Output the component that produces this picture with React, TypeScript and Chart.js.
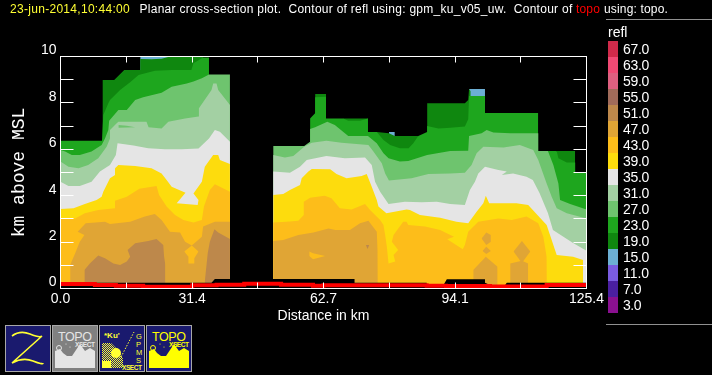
import React, { useEffect, useRef } from "react";
import { Chart, registerables } from "chart.js";

Chart.register(...registerables);

type Pair = number[];

// ---- legend ----
const legendLevels = ["67.0","63.0","59.0","55.0","51.0","47.0","43.0","39.0","35.0","31.0","27.0","23.0","19.0","15.0","11.0","7.0","3.0"];
const legendColors = ["#d02a4a","#f04a74","#de6080","#a06b5a","#bd884b","#e0a535","#fdbd1a","#fddc0d","#e5e5e5","#a3d0a3","#6ec46e","#1ea61e","#0f870f","#6cafd4","#7a5ce0","#4a1fa0","#8a1090"];
const C15 = "#6cafd4", C19 = "#0f870f", C23 = "#1ea61e", C27 = "#6ec46e", C31 = "#a3d0a3", C35 = "#e5e5e5", C39 = "#fddc0d", C43 = "#fdbd1a", C47 = "#e0a535", C51 = "#bd884b";

// ---- axes ----
const xTicks = [0, 15.7, 31.4, 47.0, 62.7, 78.4, 94.1, 109.7, 125.4];
const xTickLabels = [0, 31.4, 62.7, 94.1, 125.4];

// ---- contour tops, [km along track, km above MSL] ----
// left block
const blueA: Pair[] = [[19,9.99],[25.9,9.99]];
const top19A: Pair[] = [[10,8.99],[12.8,8.99],[15.2,9.42],[19,9.42],[19,9.89],[21.7,9.88],[24.1,9.9],[25.9,9.99],[34,9.99]];
const top23A: Pair[] = [[0,6.37],[9.9,6.37],[10.2,7.48],[11.4,7.98],[11.8,8.13],[14.2,8.56],[16.6,8.89],[18.6,9.2],[22.5,9.39],[26.5,9.42],[31.2,9.42],[31.7,9.71],[34,9.96],[35.4,9.96]];
const top27A: Pair[] = [[0,5.97],[1.1,5.9],[2.7,5.75],[4.6,5.75],[7.4,5.9],[9.8,6.19],[10.6,6.47],[11.4,6.83],[11.6,7.23],[13.8,7.69],[15.8,7.69],[17.8,8.13],[19.7,8.24],[24.1,8.44],[26.5,8.7],[30.1,8.84],[31.7,8.92],[33.7,9.06],[35.4,9.22],[40.4,9.22]];
const top31A: Pair[] = [[0,5.47],[1.9,5.25],[4.3,5.18],[6.6,5.32],[9,5.61],[11,6.11],[11.8,6.47],[11.8,6.83],[13.4,7.12],[13.8,7.19],[20.5,7.19],[21,6.95],[24.1,6.9],[25.7,7.19],[29.7,7.33],[32.9,7.41],[33,7.77],[36,8.56],[36.4,8.84],[37.2,8.84],[37.6,8.56],[40.4,7.91]];
const top35A: Pair[] = [[0,4.6],[1.9,4.42],[4.6,4.42],[7.4,4.6],[9.4,5.04],[11.8,5.32],[13.2,5.75],[13.6,6.26],[17.4,6.16],[20.9,6.04],[24.9,6],[28.9,6],[32.9,6.03],[35.4,6.47],[36.8,6.83],[38,6.76],[40.4,6.33]];
const top39A: Pair[] = [[0,3.43],[3.1,3.46],[5.8,3.64],[8.6,3.81],[9.8,3.96],[10.2,4.17],[11.8,4.75],[13,4.89],[13,5.18],[13.8,5.32],[17.8,5.28],[21.7,5.18],[24.1,4.96],[25.3,4.68],[26.5,4.39],[29.8,4.13],[27.7,3.67],[32.7,3.6],[32.9,3.81],[31.7,4.1],[33.7,4.6],[34.4,5.25],[36.4,5.75],[37.6,5.75],[38,5.54],[40.4,5.37]];
const top43A: Pair[] = [[0,3],[3.5,3.02],[5.8,3.24],[9,3.38],[13,3.46],[13,3.78],[15.8,3.96],[18.8,4.3],[22.9,4.42],[23.5,4.03],[25.3,3.53],[27.3,3.17],[29.3,2.95],[31.7,2.84],[33.7,2.95],[34.2,3.53],[35.6,4.25],[36.8,4.49],[40.4,4.17]];
const top47A: Pair[] = [[2.3,1.01],[3.5,1.52],[4.6,2.02],[5.7,2.31],[4.1,2.45],[6,2.81],[10.6,2.88],[11.8,2.78],[16.6,2.88],[20.1,3.1],[22.5,3.21],[24.1,2.95],[26.1,2.45],[28.5,2.41],[29.7,2.02],[31.3,1.85],[33.7,2.23],[34,2.67],[36.8,2.88],[40.4,2.88]];
const top51A1: Pair[] = [[5.7,0.8],[7,1.08],[9,1.42],[10.6,1.3],[12.6,1.08],[14.2,1.01],[15.8,1.16],[16.6,1.37],[16,1.66],[17.8,1.95],[20.9,2.05],[22.9,2.13],[24.5,1.88],[24.7,1.37],[25,1.01]];
const top51A2: Pair[] = [[34.4,0.3],[34.6,0.65],[35.1,1.52],[35.6,2.02],[36.7,2.55],[37.6,2.41],[40.4,2.13]];

// right block
const blueB1: Pair[] = [[78.3,6.75],[79.7,6.75]];
const blueB2: Pair[] = [[97.4,8.6],[101.2,8.6]];
const top19B1: Pair[] = [[60.7,8.38],[63.3,8.38]];
const top19B2: Pair[] = [[67.4,7.33],[73.3,7.33]];
const top19B3: Pair[] = [[75.4,6.75],[78.3,6.69],[79.7,6.57],[85.3,6.57]];
const top19B4: Pair[] = [[87.4,7.99],[96.4,7.99],[97.2,8.13],[97.4,8.6],[97.8,8.5]];
const top19B5: Pair[] = [[118.3,5.93],[122.7,5.93]];
const top23B1: Pair[] = [[59.5,6.4],[59.5,7.33],[60.7,7.55],[60.7,8.24],[63.3,8.27],[63.3,7.33],[67.4,7.33],[68.6,7.23],[71.4,7.23],[73.3,7.33],[73.3,6.75],[75.4,6.75],[77,6.4],[78.6,6.19],[80.9,6.04],[83,6.04],[84.1,6.26],[85.3,6.57],[87.4,6.75],[87.4,7],[90.1,6.9],[92.9,6.93],[96.4,6.98],[97.2,7.3],[97.4,8.3],[101.2,8.3],[101.2,7.56],[113.9,7.56]];
const top23B2: Pair[] = [[116.2,5.93],[118.3,5.93],[118.7,5.61],[120.7,5.43],[122.7,5.43],[122.7,4.99],[125.4,4.99]];
const top27B: Pair[] = [[50.7,6.14],[58.1,6.14],[59.5,6.33],[59.5,6.87],[60.7,6.95],[63.6,7.19],[65.4,7.05],[68.6,6.57],[73.3,6.57],[75.4,6.26],[77,5.83],[78.2,5.61],[80.9,5.47],[82.9,5.5],[86.1,5.68],[87.4,5.75],[92.9,5.93],[97.2,5.94],[97.4,6.57],[100.4,6.69],[101.6,6.83],[103.2,6.72],[107.2,6.69],[113.9,6.69],[113.9,5.93],[116.2,5.93],[117.5,5.32],[118.7,4.53],[119.1,3.81],[121.5,3.64],[125.4,3.41]];
const top31B: Pair[] = [[50.7,5.75],[53.5,5.65],[55.5,5.71],[58.1,6.11],[59.9,6.28],[63.4,6.37],[67,6.28],[73.4,6.19],[74.6,5.9],[76.6,5.4],[77.4,4.96],[78.3,4.65],[83.7,4.75],[87.7,4.93],[92.9,4.96],[96.4,4.99],[98,5.32],[99.2,5.83],[100.8,6.11],[105.6,6.08],[109.5,6.19],[112.7,5.97],[113.9,5.54],[115.9,4.53],[117.1,3.96],[118.3,3.46],[120.7,3.24],[125.4,3.02]];
const top35B: Pair[] = [[50.7,5.04],[54.7,4.99],[57.1,5.25],[58.7,5.54],[63.4,5.71],[67.8,5.61],[72.6,5.65],[74.2,5.32],[75,4.6],[76.2,4.17],[78.2,3.64],[82.1,3.74],[86.1,3.72],[89.7,3.74],[92.9,3.64],[96.4,3.6],[97.6,4.25],[98.8,4.6],[99.6,4.96],[101.2,5.25],[104.4,5.11],[106.4,5.04],[105.2,4.89],[107.9,4.96],[111.1,4.82],[112.6,4.68],[114.2,4.12],[116.2,3.25],[117.4,2.52],[122.2,1.96],[125.4,1.63]];
const top39B: Pair[] = [[50.7,4.03],[53.1,4.07],[54.7,4.25],[57.1,4.46],[57.5,4.75],[59.1,5.04],[59.9,5.15],[64.3,5.14],[65.8,4.93],[68.2,4.75],[71.8,4.85],[73,4.93],[74.2,4.39],[75.4,3.81],[75.8,3.53],[77.7,3.24],[80.9,3.35],[82.5,3.41],[83.3,3.38],[85.7,3.17],[90.5,3.05],[94.4,2.88],[97.2,2.81],[99.2,3.31],[100.8,3.67],[101.4,4],[102.2,3.67],[108.7,3.67],[111.5,3.6],[115.9,2.74],[118.3,1.44],[122.2,1.37],[124.6,1.23]];
const top43B: Pair[] = [[50.7,2.84],[53.9,2.88],[56.7,2.92],[58,3.17],[58,3.74],[59.5,3.91],[63,4],[64.6,3.89],[66.6,3.46],[69.4,3.41],[72.6,3.64],[73.8,3.38],[76.2,2.95],[77,2.74],[77.4,2.31],[77.8,1.8],[78.2,1.08],[79.8,1.16],[79.4,1.44],[80.5,1.66],[79,2.02],[79.4,2.31],[81.7,2.88],[82.5,2.88],[82.9,2.74],[86.9,2.67],[90.5,2.52],[93.8,2.23],[92.2,2.12],[95.9,1.69],[96.4,1.87],[97.2,2.45],[99.6,2.88],[104.4,3.02],[107.6,2.95],[111.1,3.1],[113.9,2.81],[115.1,2.23],[115.9,1.37],[115.95,0.37]];
const top47B: Pair[] = [[50.7,2.05],[53.1,2.09],[56.7,2.31],[60.3,2.41],[63.9,2.59],[65.5,2.52],[69,2.52],[71.4,2.81],[73.4,2.92],[75.4,2.45],[75.6,1.66],[75.65,0.25]];
const top47C1: Pair[] = [[98.4,0.8],[101.4,1.37],[104.2,0.94]];
const top47C2: Pair[] = [[107.2,1.08],[110,1.2],[111.5,1.08]];

// isolated cells: [upper edge, lower edge, colour]
const cell27aTop: Pair[] = [[13.8,7.05],[15.8,7.02],[17.8,6.95]];
const cell27aBot: Pair[] = [[13.8,6.93],[17.8,6.95]];
const cell43aTop: Pair[] = [[29.5,1.59],[31.3,1.85],[32.9,1.59]];
const cell43aBot: Pair[] = [[29.5,1.59],[30.5,1.37],[30.6,1.08],[31.9,1.08],[31.9,1.3],[32.9,1.59]];
const cell43bTop: Pair[] = [[59.3,1.59],[60.2,1.52],[63.1,1.4]];
const cell43bBot: Pair[] = [[59.3,1.4],[60.2,1.26],[63.1,1.4]];
const cell51bTop: Pair[] = [[72.8,1.88],[73.6,1.88]];
const cell51bBot: Pair[] = [[72.8,1.88],[73.2,1.7],[73.6,1.88]];
const cell47cTop: Pair[] = [[100.4,2.16],[101.5,2.41],[102.6,2.31]];
const cell47cBot: Pair[] = [[100.4,2.16],[101.5,1.88],[102.6,2.02]];
const cell47dTop: Pair[] = [[100.6,1.62],[101.5,1.8],[102.6,1.62]];
const cell47dBot: Pair[] = [[100.6,1.62],[101.5,1.49],[102.6,1.62]];
const cell47eTop: Pair[] = [[108,1.59],[110,2.05],[112,1.59]];
const cell47eBot: Pair[] = [[108,1.59],[110,1.1],[112,1.59]];

// no-data floor above the terrain
const noDataFloor: Pair[] = [[0,0.25],[36,0.25],[36.8,0.41],[70.1,0.41],[70.1,0.25],[87.3,0.25],[87.3,0.15],[91.3,0.15],[92.1,0.4],[101.2,0.4],[101.2,0.25],[102.4,0.15],[106,0.15],[106.4,0.25],[125.4,0.25]];

// terrain (topo), value holds until the next x
const topoKm: Pair[] = [[0,0.19],[8.2,0.15],[13.2,0.12],[19.7,0.08],[31.4,0.14],[37.2,0.16],[43.8,0.21],[52.6,0.16],[60.2,0.12],[62.7,0.14],[87.3,0.12],[91.9,0.11],[102.4,0.09],[115.9,0.15],[125.4,0.15]];

const layers: [string, Pair[]][] = [
  [C15, blueA],[C15, blueB1],[C15, blueB2],
  [C19, top19A],[C19, top19B1],[C19, top19B2],[C19, top19B3],[C19, top19B4],[C19, top19B5],
  [C23, top23A],[C23, top23B1],[C23, top23B2],
  [C27, top27A],[C27, top27B],
  [C31, top31A],[C31, top31B],
  [C35, top35A],[C35, top35B],
  [C39, top39A],[C39, top39B],
  [C43, top43A],[C43, top43B],
  [C47, top47A],[C47, top47B],[C47, top47C1],[C47, top47C2],
  [C51, top51A1],[C51, top51A2],
];
const cells: [string, Pair[], Pair[]][] = [
  [C27, cell27aTop, cell27aBot],[C43, cell43aTop, cell43aBot],[C43, cell43bTop, cell43bBot],[C51, cell51bTop, cell51bBot],
  [C47, cell47cTop, cell47cBot],[C47, cell47dTop, cell47dBot],[C47, cell47eTop, cell47eBot],
];

const titleDate = "23-jun-2014,10:44:00";
const titleA = "Planar cross-section plot.  Contour of refl using: gpm_ku_v05_uw.  Contour of";
const titleTopo = "topo";
const titleB = "using: topo.";
const legendTitle = "refl";
const sansFont = "'Liberation Sans'";

const pts = (a: Pair[]) => a.map(([x, y]) => ({ x, y }));

function buildDatasets() {
  const ds: any[] = [];
  const base = { borderWidth: 0, pointRadius: 0, pointHoverRadius: 0, tension: 0 };
  layers.forEach(([c, a]) => ds.push({ ...base, label: "refl", data: pts(a), backgroundColor: c, fill: "origin" }));
  cells.forEach(([c, t, b]) => {
    ds.push({ ...base, label: "edge", data: pts(b), fill: false });
    ds.push({ ...base, label: "refl", data: pts(t), backgroundColor: c, fill: { target: ds.length - 1 } });
  });
  ds.push({ ...base, label: "no data", data: pts(noDataFloor), backgroundColor: "#000000", fill: "origin" });
  ds.push({ ...base, label: "topo", data: pts(topoKm), borderColor: "#ff0000", borderWidth: 4, stepped: true, fill: false, borderCapStyle: "butt", borderJoinStyle: "miter" });
  ds.forEach((d, i) => (d.order = ds.length - i));
  return ds;
}

function fitText(ctx: CanvasRenderingContext2D, text: string, x: number, y: number, width: number) {
  (ctx as any).letterSpacing = "0px";
  const natural = ctx.measureText(text).width;
  (ctx as any).letterSpacing = ((width - natural) / text.length).toFixed(3) + "px";
  ctx.fillText(text, x, y);
  (ctx as any).letterSpacing = "0px";
}

const overlay = {
  id: "overlay",
  afterDraw(chart: any) {
    const ctx: CanvasRenderingContext2D = chart.ctx;
    ctx.save();
    ctx.textAlign = "left";
    ctx.textBaseline = "alphabetic";
    ctx.font = `12px ${sansFont}`;
    ctx.fillStyle = "#ffff33";
    fitText(ctx, titleDate, 10, 13, 120);
    ctx.fillStyle = "#ffffff";
    fitText(ctx, titleA, 139.5, 13, 433);
    ctx.fillStyle = "#ff0000";
    fitText(ctx, titleTopo, 576, 13, 24);
    ctx.fillStyle = "#ffffff";
    fitText(ctx, titleB, 604, 13, 64);
    ctx.strokeStyle = "#909090";
    ctx.lineWidth = 1;
    ctx.beginPath();
    ctx.moveTo(606, 19.5); ctx.lineTo(712, 19.5);
    ctx.moveTo(606, 324.5); ctx.lineTo(712, 324.5);
    ctx.stroke();
    ctx.fillStyle = "#ffffff";
    ctx.font = `14px ${sansFont}`;
    ctx.fillText(legendTitle, 608, 37);
    legendLevels.forEach((t, i) => {
      ctx.fillStyle = legendColors[i];
      ctx.fillRect(608, 41 + i * 16, 10, 16);
      ctx.fillStyle = "#ffffff";
      ctx.font = `14px ${sansFont}`;
      fitText(ctx, t, 623, 54 + i * 16, t.length === 4 ? 26 : 18);
    });
    ctx.restore();
  },
};

const axisGrid = (len: number) => ({ drawOnChartArea: false, tickLength: -len, tickColor: "#ffffff", tickWidth: 1, z: 1 });
const axisBorder = { color: "#ffffff", width: 1, z: 1 };
const setX = (s: any) => { s.ticks = xTicks.map((value) => ({ value })); };

function Icon({ left, bg, children }: { left: number; bg: string; children: React.ReactNode }) {
  return (
    <svg width={46} height={47} viewBox="0 0 46 47" style={{ position: "absolute", left, top: 325 }}>
      <rect x={0.5} y={0.5} width={45} height={46} fill={bg} stroke="#a8a8a8" />
      {children}
    </svg>
  );
}

const ridge = "3,43 3,26 8,24 11,28 15,31 20,31 28,19 33,26 38,23 43,26 43,43";

function TopoArt({ color }: { color: string }) {
  return (
    <>
      <text x={6} y={16} fontSize={12.5} fontFamily={sansFont} fill={color} textLength={34}>TOPO</text>
      <text x={23} y={22} fontSize={6.5} fontWeight="bold" fontFamily={sansFont} fill={color} textLength={20}>XSECT</text>
      <polygon points={ridge} fill={color} />
      <circle cx={7} cy={23} r={2.5} fill="none" stroke={color} />
      <circle cx={14} cy={19} r={0.6} fill={color} />
      <circle cx={18} cy={22} r={0.6} fill={color} />
    </>
  );
}

export default function App() {
  const ref = useRef<HTMLCanvasElement>(null);
  useEffect(() => {
    const chart = new Chart(ref.current as HTMLCanvasElement, {
      type: "line",
      data: { datasets: buildDatasets() },
      plugins: [overlay],
      options: {
        animation: false,
        responsive: false,
        devicePixelRatio: 1,
        layout: { padding: 0 },
        events: [],
        plugins: { legend: { display: false }, tooltip: { enabled: false }, title: { display: false } },
        scales: {
          x: {
            type: "linear", position: "bottom", min: 0, max: 125.4,
            afterBuildTicks: setX,
            afterFit: (s: any) => { s.height = 86.5; },
            grid: axisGrid(6), border: axisBorder,
            ticks: {
              color: "#ffffff", font: { family: "Liberation Sans", size: 14 }, padding: 8, autoSkip: false, maxRotation: 0, minRotation: 0,
              callback: (v: any) => (xTickLabels.includes(v) ? Number(v).toFixed(1) : ""),
            },
            title: { display: true, text: "Distance in km", color: "#ffffff", font: { family: "Liberation Sans", size: 14 }, padding: { top: 0, bottom: 50 } },
          },
          x2: {
            type: "linear", axis: "x", position: "top", min: 0, max: 125.4,
            afterBuildTicks: setX,
            afterFit: (s: any) => { s.height = 56.5; },
            grid: axisGrid(6), border: axisBorder,
            ticks: { display: false, autoSkip: false },
          },
          y: {
            type: "linear", position: "left", min: 0, max: 10,
            afterFit: (s: any) => { s.width = 60.5; },
            grid: axisGrid(13), border: axisBorder,
            ticks: {
              color: "#ffffff", font: { family: "Liberation Sans", size: 14 }, stepSize: 1, padding: 17, labelOffset: -6, autoSkip: false,
              callback: (v: any) => (v % 2 === 0 ? String(v) : ""),
            },
            title: { display: true, text: "km above MSL", color: "#ffffff", font: { family: "Liberation Mono", size: 18 }, padding: { top: 8, bottom: 0 } },
          },
          y2: {
            type: "linear", axis: "y", position: "right", min: 0, max: 10,
            afterFit: (s: any) => { s.width = 125.5; },
            grid: axisGrid(13), border: axisBorder,
            ticks: { display: false, stepSize: 1, autoSkip: false },
          },
        },
      } as any,
    } as any);
    return () => chart.destroy();
  }, []);
  return (
    <div style={{ position: "absolute", left: 0, top: 0, width: 712, height: 375, background: "#000", overflow: "hidden" }}>
      <canvas ref={ref} width={712} height={375} style={{ display: "block" }} />
      <Icon left={5} bg="#1a1a6e">
        <path d="M7 11 Q15 5 25 9 T37 11 L7 38 Q18 32 28 36 T38 38" fill="none" stroke="#ffff33" strokeWidth={1.6} />
      </Icon>
      <Icon left={52} bg="#808080"><TopoArt color="#e5e5e5" /></Icon>
      <Icon left={99} bg="#1a1a6e">
        <defs>
          <pattern id="chk" width={2} height={2} patternUnits="userSpaceOnUse">
            <rect width={1} height={1} fill="#ffff33" />
            <rect x={1} y={1} width={1} height={1} fill="#ffff33" />
          </pattern>
        </defs>
        <text x={5} y={13} fontSize={8} fontWeight="bold" fontFamily={sansFont} fill="#ffff33">*Ku'</text>
        <polygon points="3,43 3,18 12,18 20,26 24,34 24,43" fill="url(#chk)" />
        <circle cx={17} cy={28} r={5} fill="#ffff33" />
        <rect x={3} y={36} width={9} height={7} fill="#ffff33" />
        <line x1={22} y1={32} x2={35} y2={7} stroke="#ffff33" strokeDasharray="1.5 1.5" />
        <text x={37} y={14} fontSize={7.5} fontFamily={sansFont} fill="#ffff33">G</text>
        <text x={37} y={22} fontSize={7.5} fontFamily={sansFont} fill="#ffff33">P</text>
        <text x={37} y={30} fontSize={7.5} fontFamily={sansFont} fill="#ffff33">M</text>
        <text x={37} y={38} fontSize={7.5} fontFamily={sansFont} fill="#ffff33">S</text>
        <text x={23} y={45} fontSize={6.5} fontWeight="bold" fontFamily={sansFont} fill="#ffff33" textLength={20}>XSECT</text>
      </Icon>
      <Icon left={146} bg="#1a1a6e"><TopoArt color="#ffff00" /></Icon>
    </div>
  );
}
